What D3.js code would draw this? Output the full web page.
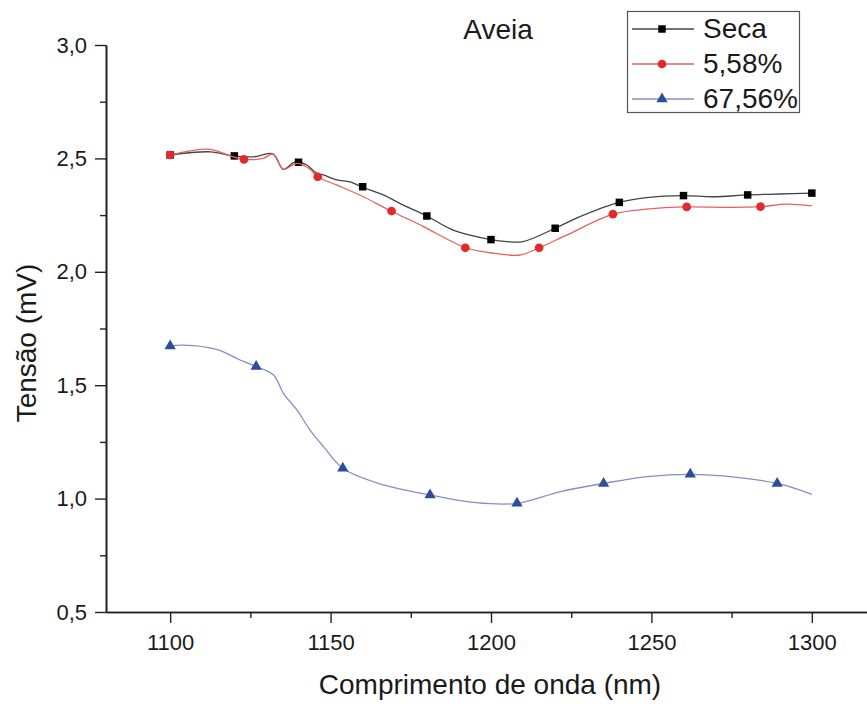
<!DOCTYPE html>
<html>
<head>
<meta charset="utf-8">
<script src="https://cdn.jsdelivr.net/npm/d3@7"></script>
<style>
  body { margin: 0; background: #fff; }
  text { font-family: "Liberation Sans", Arial, sans-serif; fill: #1a1a1a; }
</style>
</head>
<body>
<svg id="chart"></svg>
<script>
// values (nm, mV)
let seca_nm = [1100, 1112.5, 1119.6, 1125.9, 1132, 1135.3, 1138.4, 1140, 1142.6, 1145.7, 1147.8, 1151.9, 1156.1, 1159.5, 1166.4, 1172.7, 1180, 1188.2, 1200, 1204.9, 1210, 1220, 1227.7, 1239.9, 1248.5, 1259.8, 1269.2, 1280, 1290, 1300];
let seca_mv = [2.515, 2.529, 2.511, 2.507, 2.52, 2.452, 2.481, 2.483, 2.471, 2.434, 2.427, 2.405, 2.397, 2.375, 2.339, 2.294, 2.246, 2.184, 2.142, 2.133, 2.133, 2.192, 2.243, 2.306, 2.327, 2.336, 2.331, 2.339, 2.343, 2.347];
let seca_marker_nm = [1100, 1120, 1140, 1160, 1180, 1200, 1220, 1240, 1260, 1280, 1300];
let seca_marker_mv = [2.515, 2.511, 2.483, 2.375, 2.246, 2.142, 2.192, 2.306, 2.336, 2.339, 2.347];

let u558_nm = [1100, 1112.5, 1118.7, 1123, 1129, 1132, 1135.3, 1139.5, 1143.6, 1145.9, 1151.9, 1160.2, 1168.8, 1176.9, 1181, 1192.1, 1199.7, 1209, 1215, 1223.6, 1238.1, 1248.5, 1261, 1274.5, 1284, 1292.1, 1300];
let u558_mv = [2.515, 2.54, 2.511, 2.496, 2.5, 2.52, 2.452, 2.478, 2.452, 2.419, 2.383, 2.331, 2.268, 2.214, 2.184, 2.106, 2.084, 2.074, 2.106, 2.162, 2.254, 2.276, 2.286, 2.284, 2.287, 2.298, 2.291];
let u558_marker_nm = [1100, 1123, 1146, 1169, 1192, 1215, 1238, 1261, 1284];
let u558_marker_mv = [2.515, 2.496, 2.419, 2.268, 2.106, 2.106, 2.254, 2.286, 2.287];

let u6756_nm = [1100, 1104.1, 1114.5, 1121.8, 1126.8, 1132.2, 1135.3, 1139.5, 1143.6, 1147.8, 1153.8, 1166.5, 1181, 1195.3, 1208.1, 1221.4, 1235.1, 1248.8, 1262.1, 1272.2, 1289.2, 1300];
let u6756_mv = [1.673, 1.677, 1.658, 1.611, 1.582, 1.545, 1.464, 1.391, 1.302, 1.229, 1.134, 1.06, 1.016, 0.982, 0.979, 1.03, 1.067, 1.097, 1.107, 1.1, 1.067, 1.019];
let u6756_marker_nm = [1100, 1126.8, 1153.8, 1181, 1208.1, 1235.1, 1262.1, 1289.2];
let u6756_marker_mv = [1.673, 1.582, 1.134, 1.016, 0.979, 1.067, 1.107, 1.067];

let x_ticks = [1100, 1150, 1200, 1250, 1300];
let x_minor = [1125, 1175, 1225, 1275];
let y_ticks = [0.5, 1.0, 1.5, 2.0, 2.5, 3.0];
let y_minor = [0.75, 1.25, 1.75, 2.25, 2.75];

let series_names = ["Seca", "5,58%", "67,56%"];

let width = 867, height = 704;
let svg = d3.select("#chart").attr("width", width).attr("height", height);

let x = d3.scaleLinear().domain([1080, 1320]).range([106, 876]);
let y = d3.scaleLinear().domain([0.5, 3.0]).range([612, 45]);

let comma = v => d3.format(".1f")(v).replace(".", ",");

// axes
let xAxis = svg.append("g").attr("transform", "translate(0,612)");
xAxis.call(d3.axisBottom(x).tickValues(x_ticks).tickSize(11).tickSizeOuter(0).tickPadding(11).tickFormat(d3.format("d")));
xAxis.append("g").call(d3.axisBottom(x).tickValues(x_minor).tickSize(6).tickSizeOuter(0).tickFormat(""));

let yAxis = svg.append("g").attr("transform", "translate(106,0)");
yAxis.call(d3.axisLeft(y).tickValues(y_ticks).tickSize(11).tickSizeOuter(0).tickPadding(8).tickFormat(comma));
yAxis.append("g").call(d3.axisLeft(y).tickValues(y_minor).tickSize(6).tickSizeOuter(0).tickFormat(""));

svg.selectAll(".domain").attr("stroke", "#222").attr("stroke-width", 1.6);
svg.selectAll(".tick line").attr("stroke", "#222").attr("stroke-width", 1.4);
svg.selectAll(".tick text")
  .style("font-family", "'Liberation Sans', Arial, sans-serif")
  .style("font-size", "22px")
  .attr("fill", "#1a1a1a");

// lines
let line = d3.line()
  .x(d => x(d[0]))
  .y(d => y(d[1]))
  .curve(d3.curveCatmullRom.alpha(0.5));

let series = [
  { nm: seca_nm, mv: seca_mv, mnm: seca_marker_nm, mmv: seca_marker_mv, line: "#444", mark: "#000", shape: d3.symbolSquare, size: 56 },
  { nm: u558_nm, mv: u558_mv, mnm: u558_marker_nm, mmv: u558_marker_mv, line: "#e8605e", mark: "#e02a2c", shape: d3.symbolCircle, size: 60 },
  { nm: u6756_nm, mv: u6756_mv, mnm: u6756_marker_nm, mmv: u6756_marker_mv, line: "#8390c0", mark: "#2c4c9c", shape: d3.symbolTriangle, size: 55 }
];

series.forEach(function(s) {
  svg.append("path")
    .datum(s.nm.map((v, i) => [v, s.mv[i]]))
    .attr("d", line)
    .attr("fill", "none")
    .attr("stroke", s.line)
    .attr("stroke-width", 1.3);
  svg.append("g").selectAll("path")
    .data(s.mnm.map((v, i) => [v, s.mmv[i]]))
    .join("path")
    .attr("transform", d => `translate(${x(d[0])},${y(d[1])})`)
    .attr("d", d3.symbol().type(s.shape).size(s.size))
    .attr("fill", s.mark);
});

// title
svg.append("text")
  .attr("x", 498).attr("y", 39)
  .attr("text-anchor", "middle")
  .style("font-size", "28px")
  .text("Aveia");

// legend
let legend = svg.append("g");
legend.append("rect")
  .attr("x", 627.5).attr("y", 11.5).attr("width", 172).attr("height", 101)
  .attr("fill", "#fff").attr("stroke", "#555").attr("stroke-width", 1.2);
series.forEach(function(s, i) {
  let cy = 29 + i * 35;
  legend.append("line")
    .attr("x1", 632).attr("x2", 694).attr("y1", cy).attr("y2", cy)
    .attr("stroke", s.line).attr("stroke-width", 1.3);
  legend.append("path")
    .attr("transform", `translate(662,${cy})`)
    .attr("d", d3.symbol().type(s.shape).size(s.size))
    .attr("fill", s.mark);
  legend.append("text")
    .attr("x", 703).attr("y", cy + 9)
    .style("font-size", "28px")
    .text(series_names[i]);
});

// axis titles
svg.append("text")
  .attr("transform", "translate(36,343) rotate(-90)")
  .attr("text-anchor", "middle")
  .style("font-size", "28px")
  .text("Tensão (mV)");

svg.append("text")
  .attr("x", 490).attr("y", 694)
  .attr("text-anchor", "middle")
  .style("font-size", "28px")
  .text("Comprimento de onda (nm)");
</script>
</body>
</html>
